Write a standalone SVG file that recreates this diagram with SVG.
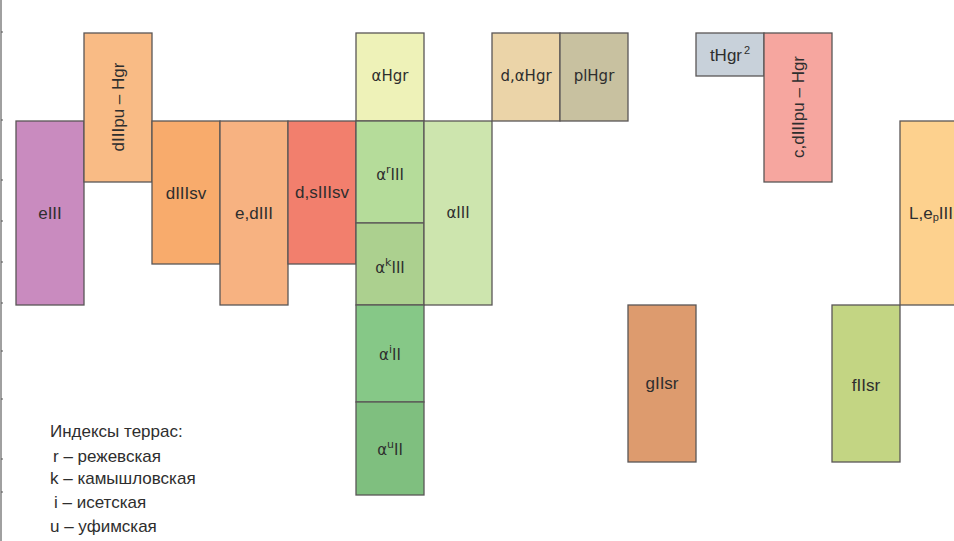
<svg xmlns="http://www.w3.org/2000/svg" width="954" height="541" viewBox="0 0 954 541">
  <style>
    .b { stroke: #5a5656; stroke-width: 1.3; }
    .t { font-family: "Liberation Sans", Arial, sans-serif; font-size: 17px; fill: #2e2e2e; text-anchor: middle; dominant-baseline: central; }
    .g { font-family: "DejaVu Sans", "Liberation Sans", sans-serif; font-size: 15px; fill: #2e2e2e; text-anchor: middle; dominant-baseline: central; }
    .sup { font-size: 11px; }
    .leg { font-family: "Liberation Sans", Arial, sans-serif; font-size: 17px; fill: #2e2e2e; }
    .tick { stroke: #555; stroke-width: 1; }
  </style>
  <rect width="954" height="541" fill="#fff"/>

  <!-- left scale strip -->
  <g id="scale">
    <rect x="0" y="0" width="2" height="541" fill="#a0a0a0"/>
    <path class="tick" d="M1 32h2M1 120h2M1 180h2M1 221h2M1 262h2M1 303h2M1 351h2M1 399h2M1 459h2M1 492h2"/>
  </g>

  <g id="eIII"><rect class="b" x="16" y="121" width="68" height="184" fill="#c98bbf"/><text class="t" x="50" y="213">eIII</text></g>
  <g id="dIIIpu-Hgr"><rect class="b" x="84" y="33" width="68" height="149" fill="#f9bb85"/><text class="t" transform="translate(118 107) rotate(-90)">dIIIpu – Hgr</text></g>
  <g id="dIIIsv"><rect class="b" x="152" y="121" width="68" height="143" fill="#f8ab6c"/><text class="t" x="186" y="193">dIIIsv</text></g>
  <g id="e-dIII"><rect class="b" x="220" y="121" width="68" height="184" fill="#f7b281"/><text class="t" x="254" y="213">e,dIII</text></g>
  <g id="d-sIIIsv"><rect class="b" x="288" y="121" width="68" height="143" fill="#f27f6d"/><text class="t" x="322" y="192">d,sIIIsv</text></g>

  <g id="aHgr"><rect class="b" x="356" y="33" width="68" height="88" fill="#eef2b8"/><text class="g" x="390" y="76">αHgr</text></g>
  <g id="arIII"><rect class="b" x="356" y="121" width="68" height="102" fill="#b5dc9a"/><text class="g" x="390" y="175">α<tspan class="sup" dy="-6">r</tspan><tspan dy="6">III</tspan></text></g>
  <g id="akIII"><rect class="b" x="356" y="223" width="68" height="82" fill="#acd08f"/><text class="g" x="390" y="268">α<tspan class="sup" dy="-6">k</tspan><tspan dy="6">III</tspan></text></g>
  <g id="aIII"><rect class="b" x="424" y="121" width="68" height="184" fill="#cde5ae"/><text class="g" x="458" y="213">αIII</text></g>
  <g id="aiII"><rect class="b" x="356" y="305" width="68" height="97" fill="#86c887"/><text class="g" x="390" y="355">α<tspan class="sup" dy="-6">i</tspan><tspan dy="6">II</tspan></text></g>
  <g id="auII"><rect class="b" x="356" y="402" width="68" height="93" fill="#7fbf7f"/><text class="g" x="390" y="450">α<tspan class="sup" dy="-6">u</tspan><tspan dy="6">II</tspan></text></g>

  <g id="d-aHgr"><rect class="b" x="492" y="33" width="68" height="88" fill="#ebd4a8"/><text class="g" x="526" y="76">d,αHgr</text></g>
  <g id="plHgr"><rect class="b" x="560" y="33" width="68" height="88" fill="#c8c1a0"/><text class="g" x="594" y="76">plHgr</text></g>

  <g id="tHgr2"><rect class="b" x="696" y="33" width="68" height="43" fill="#c8d1da"/><text class="t" x="730" y="55">tHgr<tspan class="sup" dx="2" dy="-5">2</tspan></text></g>
  <g id="c-dIIIpu-Hgr"><rect class="b" x="764" y="33" width="68" height="149" fill="#f6a69f"/><text class="t" transform="translate(798 107) rotate(-90)">c,dIIIpu – Hgr</text></g>

  <g id="gIIsr"><rect class="b" x="628" y="305" width="68" height="157" fill="#dd9b6e"/><text class="t" x="662" y="383">gIIsr</text></g>
  <g id="fIIsr"><rect class="b" x="832" y="305" width="68" height="157" fill="#c3d583"/><text class="t" x="866" y="385">fIIsr</text></g>
  <g id="L-epIII"><rect class="b" x="900" y="121" width="68" height="184" fill="#fdd18e"/><text class="t" x="931" y="213">L,e<tspan class="sup" dy="4">p</tspan><tspan dy="-4">III</tspan></text></g>

  <g id="legend">
    <text class="leg" x="50" y="437">Индексы террас:</text>
    <text class="leg" x="53" y="462">r – режевская</text>
    <text class="leg" x="50" y="484">k – камышловская</text>
    <text class="leg" x="54" y="508">i – исетская</text>
    <text class="leg" x="50" y="532">u – уфимская</text>
  </g>
</svg>
